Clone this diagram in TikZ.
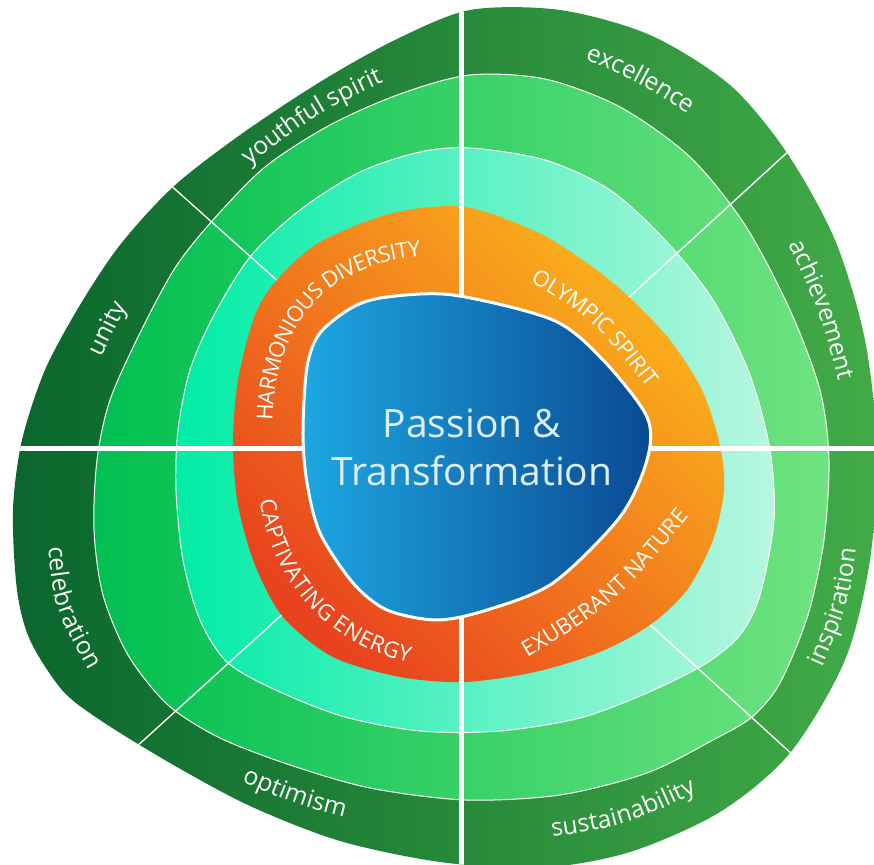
\documentclass[tikz,border=0pt]{standalone}
\usepackage{fontspec}
\newfontfamily\wheelfont{Open Sans}
\usetikzlibrary{decorations.text}

\definecolor{rimL}{HTML}{0A662D}
\definecolor{rimM}{HTML}{17833A}
\definecolor{rimR}{HTML}{42AB47}
\definecolor{bandL}{HTML}{00BF50}
\definecolor{bandM}{HTML}{16D862}
\definecolor{bandR}{HTML}{70E380}
\definecolor{mintL}{HTML}{00ECA6}
\definecolor{mintM}{HTML}{25F1C2}
\definecolor{mintR}{HTML}{B8F7E0}
\definecolor{hubLo}{HTML}{E8431E}
\definecolor{hubM}{HTML}{F28020}
\definecolor{hubHi}{HTML}{FBB51C}
\definecolor{coreL}{HTML}{1DA7E1}
\definecolor{coreR}{HTML}{0A4992}
\definecolor{coretext}{HTML}{DCEFF9}

\begin{document}
\begin{tikzpicture}[x=0.4pt,y=0.4pt]

\def\rimblob{plot[smooth cycle] coordinates {(5,439) (95,439) (185,414) (265,364) (322,296) (370,209) (400,109) (412,-1) (405,-111) (380,-211) (325,-304) (255,-363) (165,-403) (75,-419) (-25,-413) (-125,-392) (-215,-357) (-295,-314) (-365,-271) (-403,-241) (-435,-191) (-448,-141) (-452,-61) (-443,9) (-420,79) (-385,144) (-345,204) (-292,262) (-225,314) (-145,367) (-70,409)}}
\def\bandblob{plot[smooth cycle] coordinates {(5,374) (80,370) (155,342) (225,292) (280,224) (325,139) (355,59) (364,-11) (359,-91) (343,-166) (315,-234) (287,-268) (248,-291) (182,-324) (95,-346) (0,-351) (-95,-339) (-175,-316) (-245,-289) (-297,-256) (-337,-206) (-362,-146) (-371,-81) (-368,-11) (-355,49) (-325,116) (-290,181) (-252,229) (-200,282) (-135,324) (-65,355)}}
\def\mintblob{plot[smooth cycle] coordinates {(5,301) (80,289) (145,259) (200,209) (248,149) (285,74) (305,-1) (309,-71) (295,-146) (275,-186) (240,-215) (182,-244) (115,-269) (35,-282) (-45,-282) (-120,-268) (-185,-243) (-237,-214) (-265,-171) (-282,-111) (-289,-41) (-287,19) (-275,79) (-252,132) (-215,192) (-165,239) (-105,277) (-45,297)}}
\def\hubblob{plot[smooth cycle] coordinates {(0,242) (72,217) (125,184) (164,152) (205,109) (237,59) (255,4) (259,-41) (248,-91) (222,-141) (185,-176) (135,-203) (70,-223) (0,-233) (-65,-228) (-132,-208) (-182,-168) (-210,-116) (-227,-56) (-232,4) (-227,69) (-210,134) (-188,169) (-145,207) (-72,236)}}
\def\coreblob{plot[smooth cycle] coordinates {(-12,154) (88,129) (138,89) (182,32) (182,-11) (155,-68) (88,-134) (22,-161) (-28,-171) (-78,-161) (-112,-134) (-145,-84) (-158,-34) (-162,16) (-158,82) (-145,116) (-112,142) (-78,152)}}

\tikzset{ringline/.style={draw=white, line width=0.4pt}}
\tikzset{spoke/.style={draw=white, line width=0.55pt}}
\tikzset{crossbar/.style={draw=white, line width=2pt}}
\tikzset{rimlabel/.style={decorate, decoration={text along path, text align=center, raise=-2.6pt, text color=white, text={|\wheelfont\fontsize{9.8}{11}\selectfont|#1}}}}
\tikzset{hublabel/.style={decorate, decoration={text along path, text align=center, raise=-3.1pt, text color=white, text={|\wheelfont\fontsize{8.8}{10}\selectfont|#1}}}}

\useasboundingbox (-465,-416) rectangle (409,449);

% rings, outside in
\shade[left color=rimL, middle color=rimM, right color=rimR] \rimblob;
\shade[left color=bandL, middle color=bandM, right color=bandR, ringline] \bandblob;
\shade[left color=mintL, middle color=mintM, right color=mintR, ringline] \mintblob;

% diagonal spokes
\coordinate (ul rim) at (-307,275);  \coordinate (ul hub) at (-175,157);
\coordinate (ur rim) at (338,311);   \coordinate (ur hub) at (150,139);
\coordinate (lr rim) at (341,-318);  \coordinate (lr hub) at (168,-160);
\coordinate (ll rim) at (-341,-309); \coordinate (ll hub) at (-168,-152);
\begin{scope}
\clip \rimblob;
\draw[spoke] (ul hub) -- (ul rim);
\draw[spoke] (ur hub) -- (ur rim);
\draw[spoke] (lr hub) -- (lr rim);
\draw[spoke] (ll hub) -- (ll rim);
\end{scope}

\shade[top color=hubHi, middle color=hubM, bottom color=hubLo, shading angle=-45] \hubblob;

% the cross
\coordinate (top) at (-3,460);  \coordinate (bottom) at (-3,-430);
\coordinate (left) at (-475,0); \coordinate (right) at (420,0);
\begin{scope}
\clip \rimblob;
\draw[crossbar] (top) -- (bottom);
\draw[crossbar] (left) -- (right);
\end{scope}

\shade[left color=coreL, right color=coreR, draw=white, line width=1.2pt] \coreblob;
\node[text=coretext, align=center, font=\wheelfont\fontsize{15.6}{19.2}\selectfont] (core) at (7,2) {Passion \&\\Transformation};

% outer words
\path[rimlabel={youthful spirit}] (-240,272) .. controls (-153,341) .. (-60,384);
\path[rimlabel={excellence}] (100,404) .. controls (175.5,374) .. (247,327);
\path[rimlabel={achievement}] (320,227) .. controls (362.5,137) .. (385,49);
\path[rimlabel={unity}] (-387,59) .. controls (-357,121) .. (-326,181);
\path[rimlabel={celebration}] (-412,-71) .. controls (-406.5,-156) .. (-357,-241);
\path[rimlabel={optimism}] (-243,-316) .. controls (-170,-349) .. (-95,-368);
\path[rimlabel={sustainability}] (60,-385) .. controls (157,-372) .. (253,-326);
\path[rimlabel={inspiration}] (340,-241) .. controls (379,-153) .. (387,-71);

% values on the orange ring
\path[hublabel={HARMONIOUS DIVERSITY}] (-200,9) .. controls (-205,130) and (-140,200) .. (-25,201);
\path[hublabel={OLYMPIC SPIRIT}] (57,181) .. controls (134,135.5) .. (197,54);
\path[hublabel={CAPTIVATING ENERGY}] (-200,-21) .. controls (-198,-125) and (-130,-200) .. (-25,-211);
\path[hublabel={EXUBERANT NATURE}] (35,-216) .. controls (148,-148) .. (235,-41);

\end{tikzpicture}
\end{document}
